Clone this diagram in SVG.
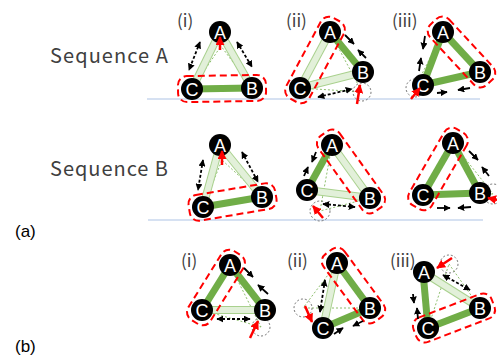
<svg xmlns="http://www.w3.org/2000/svg" width="497" height="358" viewBox="0 0 497 358">
<defs>
<marker id="ah" viewBox="0 0 10 10" refX="9" refY="5" markerWidth="7" markerHeight="7" markerUnits="userSpaceOnUse" orient="auto-start-reverse"><path d="M0,0 L10,5 L0,10 z" fill="#000"/></marker>
<marker id="rh" viewBox="0 0 10 10" refX="9" refY="5" markerWidth="9" markerHeight="9" markerUnits="userSpaceOnUse" orient="auto"><path d="M0,0 L10,5 L0,10 z" fill="#FF0000"/></marker>
</defs>
<style>
.lbl{font-family:"Noto Sans CJK JP","Noto Sans",sans-serif;fill:#404040}
.pl{font-family:"Liberation Sans","Open Sans",sans-serif;fill:#000;font-size:17px}
.strong{stroke:#70AD47;stroke-width:7}
.lo{stroke:#A9D18E;stroke-width:8}
.li{stroke:#E2F0D9;stroke-width:6}
.thin{stroke:#70AD47;stroke-width:0.8;stroke-dasharray:2 2;fill:none}
.ghost{fill:none;stroke:#555;stroke-width:0.8;stroke-dasharray:2 2}
.nd circle{fill:#000}
.nd text{fill:#fff;font-family:"Liberation Sans","Open Sans",sans-serif;font-size:18px;text-anchor:middle}
.enc{fill:none;stroke:#FF0000;stroke-width:2;stroke-dasharray:7 4}
.div{stroke:#000;stroke-width:1.8;stroke-dasharray:3 2;fill:none;marker-start:url(#ah);marker-end:url(#ah)}
.cv{stroke:#000;stroke-width:1.8;fill:none;marker-end:url(#ah)}
.ra{stroke:#FF0000;stroke-width:2.5;fill:none;marker-end:url(#rh)}
.sep{stroke:#C9D7EE;stroke-width:1.5}
</style>
<rect width="497" height="358" fill="#fff"/>
<line class="sep" x1="147" y1="99" x2="480" y2="99"/>
<line class="sep" x1="148" y1="220" x2="483" y2="220"/>
<text class="lbl" x="50" y="63" font-size="20" textLength="118">Sequence A</text>
<text class="lbl" x="50" y="176" font-size="20" textLength="118">Sequence B</text>
<text class="pl" x="15" y="237">(a)</text>
<text class="pl" x="15" y="352">(b)</text>
<g class="lbl" font-size="17">
<text x="177" y="27">(i)</text>
<text x="286" y="27">(ii)</text>
<text x="392" y="27">(iii)</text>
<text x="181" y="267">(i)</text>
<text x="287" y="267">(ii)</text>
<text x="390" y="267">(iii)</text>
</g>
<g id="connectors">
<line class="thin" x1="192" y1="89" x2="221" y2="46"/><line class="thin" x1="252" y1="88" x2="221" y2="46"/>
<line class="thin" x1="330" y1="32" x2="362" y2="92"/><line class="thin" x1="300" y1="88" x2="362" y2="92"/>
<line class="thin" x1="443" y1="32" x2="415" y2="88"/><line class="thin" x1="480" y1="72" x2="415" y2="88"/>
<line class="thin" x1="203" y1="207" x2="222" y2="160"/><line class="thin" x1="262" y1="197" x2="222" y2="160"/>
<line class="thin" x1="332" y1="145" x2="320" y2="211"/><line class="thin" x1="370" y1="198" x2="320" y2="211"/>
<line class="thin" x1="453" y1="143" x2="493" y2="194"/><line class="thin" x1="423" y1="195" x2="493" y2="194"/>
<line class="thin" x1="230" y1="265" x2="261" y2="327"/><line class="thin" x1="202" y1="310" x2="261" y2="327"/>
<line class="thin" x1="337" y1="263" x2="303" y2="308"/><line class="thin" x1="370" y1="308" x2="303" y2="308"/>
<line class="thin" x1="480" y1="308" x2="449" y2="264"/><line class="thin" x1="428" y1="328" x2="449" y2="264"/>
<line class="lo" x1="220" y1="32" x2="192" y2="89"/><line class="li" x1="220" y1="32" x2="192" y2="89"/>
<line class="lo" x1="220" y1="32" x2="252" y2="88"/><line class="li" x1="220" y1="32" x2="252" y2="88"/>
<line class="strong" x1="192" y1="89" x2="252" y2="88"/>
<line class="lo" x1="330" y1="32" x2="300" y2="88"/><line class="li" x1="330" y1="32" x2="300" y2="88"/>
<line class="lo" x1="300" y1="88" x2="363" y2="72"/><line class="li" x1="300" y1="88" x2="363" y2="72"/>
<line class="strong" x1="330" y1="32" x2="363" y2="72"/>
<line class="strong" x1="443" y1="32" x2="423" y2="85"/>
<line class="strong" x1="443" y1="32" x2="480" y2="72"/>
<line class="strong" x1="423" y1="85" x2="480" y2="72"/>
<line class="lo" x1="220" y1="145" x2="203" y2="207"/><line class="li" x1="220" y1="145" x2="203" y2="207"/>
<line class="lo" x1="220" y1="145" x2="262" y2="197"/><line class="li" x1="220" y1="145" x2="262" y2="197"/>
<line class="strong" x1="203" y1="207" x2="262" y2="197"/>
<line class="lo" x1="332" y1="145" x2="370" y2="198"/><line class="li" x1="332" y1="145" x2="370" y2="198"/>
<line class="lo" x1="307" y1="190" x2="370" y2="198"/><line class="li" x1="307" y1="190" x2="370" y2="198"/>
<line class="strong" x1="332" y1="145" x2="307" y2="190"/>
<line class="strong" x1="453" y1="143" x2="423" y2="195"/>
<line class="strong" x1="453" y1="143" x2="480" y2="193"/>
<line class="strong" x1="423" y1="195" x2="480" y2="193"/>
<line class="lo" x1="202" y1="310" x2="265" y2="310"/><line class="li" x1="202" y1="310" x2="265" y2="310"/>
<line class="strong" x1="230" y1="265" x2="202" y2="310"/>
<line class="strong" x1="230" y1="265" x2="265" y2="310"/>
<line class="lo" x1="337" y1="263" x2="323" y2="328"/><line class="li" x1="337" y1="263" x2="323" y2="328"/>
<line class="strong" x1="337" y1="263" x2="370" y2="308"/>
<line class="strong" x1="323" y1="328" x2="370" y2="308"/>
<line class="lo" x1="423" y1="272" x2="480" y2="308"/><line class="li" x1="423" y1="272" x2="480" y2="308"/>
<line class="strong" x1="423" y1="272" x2="428" y2="328"/>
<line class="strong" x1="428" y1="328" x2="480" y2="308"/>
<circle class="ghost" cx="362" cy="92" r="9"/>
<circle class="ghost" cx="415" cy="88" r="9"/>
<circle class="ghost" cx="320" cy="211" r="10"/>
<circle class="ghost" cx="493" cy="194" r="10"/>
<circle class="ghost" cx="261" cy="327" r="9"/>
<circle class="ghost" cx="303" cy="308" r="9"/>
<circle class="ghost" cx="449" cy="264" r="9"/>
</g>
<g id="Ai-A" class="nd"><circle cx="220" cy="32" r="11"/><text x="220" y="38.5">A</text></g>
<g id="Ai-B" class="nd"><circle cx="252" cy="88" r="11"/><text x="252" y="94.5">B</text></g>
<g id="Ai-C" class="nd"><circle cx="192" cy="89" r="11"/><text x="192" y="95.5">C</text></g>
<g id="Aii-A" class="nd"><circle cx="330" cy="32" r="11"/><text x="330" y="38.5">A</text></g>
<g id="Aii-B" class="nd"><circle cx="363" cy="72" r="11"/><text x="363" y="78.5">B</text></g>
<g id="Aii-C" class="nd"><circle cx="300" cy="88" r="11"/><text x="300" y="94.5">C</text></g>
<g id="Aiii-A" class="nd"><circle cx="443" cy="32" r="11"/><text x="443" y="38.5">A</text></g>
<g id="Aiii-B" class="nd"><circle cx="480" cy="72" r="11"/><text x="480" y="78.5">B</text></g>
<g id="Aiii-C" class="nd"><circle cx="423" cy="85" r="11"/><text x="423" y="91.5">C</text></g>
<g id="Bi-A" class="nd"><circle cx="220" cy="145" r="11"/><text x="220" y="151.5">A</text></g>
<g id="Bi-B" class="nd"><circle cx="262" cy="197" r="11"/><text x="262" y="203.5">B</text></g>
<g id="Bi-C" class="nd"><circle cx="203" cy="207" r="11"/><text x="203" y="213.5">C</text></g>
<g id="Bii-A" class="nd"><circle cx="332" cy="145" r="11"/><text x="332" y="151.5">A</text></g>
<g id="Bii-B" class="nd"><circle cx="370" cy="198" r="11"/><text x="370" y="204.5">B</text></g>
<g id="Bii-C" class="nd"><circle cx="307" cy="190" r="11"/><text x="307" y="196.5">C</text></g>
<g id="Biii-A" class="nd"><circle cx="453" cy="143" r="11"/><text x="453" y="149.5">A</text></g>
<g id="Biii-B" class="nd"><circle cx="480" cy="193" r="11"/><text x="480" y="199.5">B</text></g>
<g id="Biii-C" class="nd"><circle cx="423" cy="195" r="11"/><text x="423" y="201.5">C</text></g>
<g id="bi-A" class="nd"><circle cx="230" cy="265" r="11"/><text x="230" y="271.5">A</text></g>
<g id="bi-B" class="nd"><circle cx="265" cy="310" r="11"/><text x="265" y="316.5">B</text></g>
<g id="bi-C" class="nd"><circle cx="202" cy="310" r="11"/><text x="202" y="316.5">C</text></g>
<g id="bii-A" class="nd"><circle cx="337" cy="263" r="11"/><text x="337" y="269.5">A</text></g>
<g id="bii-B" class="nd"><circle cx="370" cy="308" r="11"/><text x="370" y="314.5">B</text></g>
<g id="bii-C" class="nd"><circle cx="323" cy="328" r="11"/><text x="323" y="334.5">C</text></g>
<g id="biii-A" class="nd"><circle cx="424" cy="272" r="11"/><text x="424" y="278.5">A</text></g>
<g id="biii-B" class="nd"><circle cx="480" cy="308" r="11"/><text x="480" y="314.5">B</text></g>
<g id="biii-C" class="nd"><circle cx="428" cy="328" r="11"/><text x="428" y="334.5">C</text></g>
<g id="groups">
<rect class="enc" x="-44" y="-13" width="88" height="26" rx="9" transform="translate(222,88.5) rotate(-0.95)"/>
<rect class="enc" x="-45.75" y="-13" width="91.5" height="26" rx="9" transform="translate(315,60) rotate(118.2)"/>
<rect class="enc" x="-41.25" y="-13" width="82.5" height="26" rx="9" transform="translate(461.5,52) rotate(47.2)"/>
<rect class="enc" x="-43.9" y="-13" width="87.8" height="26" rx="9" transform="translate(232.5,202) rotate(-9.6)"/>
<rect class="enc" x="-46.6" y="-13" width="93.2" height="26" rx="9" transform="translate(351,171.5) rotate(54.4)"/>
<rect class="enc" x="-44" y="-13" width="88" height="26" rx="9" transform="translate(438,169) rotate(120)"/>
<rect class="enc" x="-40.5" y="-13" width="81" height="26" rx="9" transform="translate(216,287.5) rotate(121.9)"/>
<rect class="enc" x="-41.9" y="-13" width="83.8" height="26" rx="9" transform="translate(353.5,285.5) rotate(53.7)"/>
<rect class="enc" x="-41.85" y="-13" width="83.7" height="26" rx="9" transform="translate(454,318) rotate(-21)"/>
</g>
<g id="motion">
<line class="div" x1="200" y1="42" x2="189" y2="70"/>
<line class="div" x1="237" y1="42" x2="252" y2="67"/>
<line class="cv" x1="345" y1="35" x2="354" y2="44"/><line class="cv" x1="366" y1="58" x2="358" y2="50"/>
<line class="div" x1="318" y1="97" x2="352" y2="89"/>
<line class="cv" x1="425" y1="36" x2="423" y2="49"/><line class="cv" x1="419" y1="71" x2="421" y2="58"/>
<line class="cv" x1="437" y1="93" x2="447" y2="92"/><line class="cv" x1="470" y1="88" x2="458" y2="90"/>
<line class="div" x1="203" y1="160" x2="198" y2="190"/>
<line class="div" x1="242" y1="152" x2="258" y2="182"/>
<line class="cv" x1="316" y1="152" x2="312" y2="162"/><line class="cv" x1="304" y1="176" x2="308" y2="167"/>
<line class="div" x1="323" y1="204" x2="355" y2="207"/>
<line class="cv" x1="469" y1="151" x2="478" y2="160"/><line class="cv" x1="489" y1="176" x2="482" y2="167"/>
<line class="cv" x1="437" y1="208" x2="450" y2="208"/><line class="cv" x1="471" y1="207" x2="458" y2="208"/>
<line class="cv" x1="244" y1="268" x2="253" y2="277"/><line class="cv" x1="268" y1="294" x2="258" y2="285"/>
<line class="div" x1="217" y1="319" x2="250" y2="319"/>
<line class="div" x1="325" y1="280" x2="320" y2="312"/>
<line class="cv" x1="334" y1="334" x2="343" y2="328"/><line class="cv" x1="363" y1="321" x2="353" y2="326"/>
<line class="div" x1="443" y1="275" x2="470" y2="290"/>
<line class="cv" x1="413" y1="294" x2="414" y2="303"/><line class="cv" x1="418" y1="319" x2="417" y2="308"/>
<line class="ra" x1="220" y1="50" x2="220" y2="37"/>
<line class="ra" x1="357" y1="104" x2="360" y2="85"/>
<line class="ra" x1="411" y1="99" x2="420" y2="88"/>
<line class="ra" x1="222" y1="165" x2="222" y2="151"/>
<line class="ra" x1="323" y1="218" x2="313" y2="206"/>
<line class="ra" x1="498" y1="200" x2="488" y2="198"/>
<line class="ra" x1="250" y1="338" x2="258" y2="321"/>
<line class="ra" x1="305" y1="306" x2="312" y2="322"/>
<line class="ra" x1="452" y1="258" x2="437" y2="268"/>
</g>
</svg>
